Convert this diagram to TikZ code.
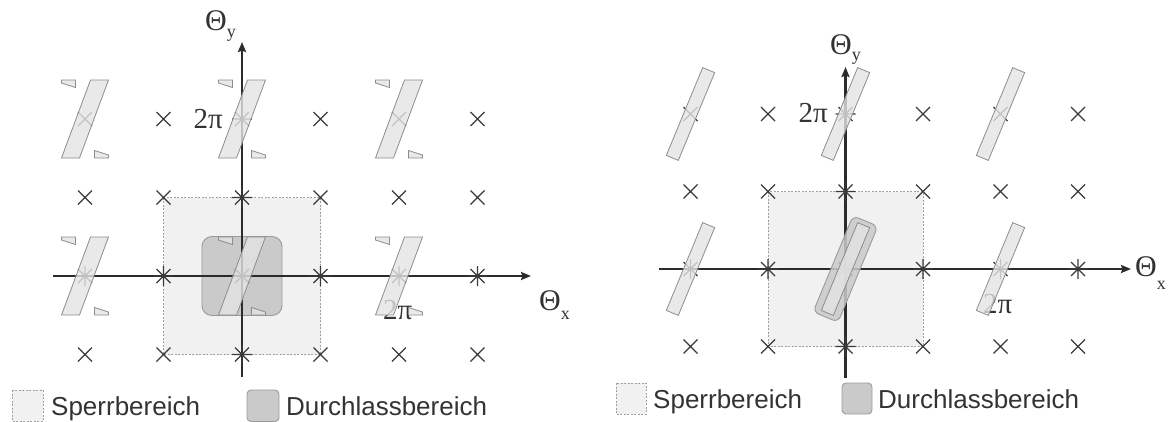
\documentclass[tikz,border=0pt]{standalone}
\usepackage{fontspec}
\setmainfont{Liberation Serif}
\newfontfamily\legfont{Liberation Sans}
\usetikzlibrary{arrows.meta}
\definecolor{axisc}{HTML}{2B2B2B}
\definecolor{markc}{HTML}{3A3A3A}
\definecolor{stopfill}{HTML}{F1F1F1}
\definecolor{stopdraw}{HTML}{A0A0A0}
\definecolor{passfill}{HTML}{CACACA}
\definecolor{passdraw}{HTML}{9A9A9A}
\definecolor{parafill}{HTML}{E4E4E4}
\definecolor{paradraw}{HTML}{8C8C8C}
\definecolor{textc}{HTML}{333333}
\tikzset{
  stopband/.style={fill=stopfill, draw=stopdraw, dash pattern=on 2pt off 1.5pt, line width=0.8pt},
  passband/.style={fill=passfill, draw=passdraw, line width=0.9pt},
  parastyle/.style={fill=parafill, fill opacity=0.8, draw=paradraw, draw opacity=1, line width=0.8pt},
  axisline/.style={draw=axisc, line width=2.4pt, -{Stealth[length=10pt,width=8pt,inset=1.5pt]}},
  axisplain/.style={draw=axisc, line width=2.4pt},
  mathlab/.style={anchor=base west, inner sep=0pt, text=textc, font=\fontsize{30}{30}\selectfont},
  pilab/.style={inner sep=0pt, text=textc, font=\fontsize{29}{29}\selectfont},
  leglab/.style={anchor=base west, inner sep=0pt, text=textc, font=\legfont\fontsize{26}{26}\selectfont},
  xmark/.pic={\draw[markc, line width=1.3pt] (-7pt,-7pt)--(7pt,7pt) (-7pt,7pt)--(7pt,-7pt);},
  astmark/.pic={\draw[markc, line width=1.3pt] (-7pt,-7pt)--(7pt,7pt) (-7pt,7pt)--(7pt,-7pt) (-10pt,0pt)--(10pt,0pt) (0pt,-10pt)--(0pt,10pt);},
  parapic/.pic={
    \draw[parastyle] (5.5pt,39pt)--(23.5pt,39pt)--(-5.5pt,-39pt)--(-23.5pt,-39pt)--cycle;
    \draw[parastyle] (-23.5pt,39pt)--(-9.5pt,39pt)--(-9.5pt,31.5pt)--(-23.5pt,36pt)--cycle;
    \draw[parastyle] (23.5pt,-39pt)--(9.5pt,-39pt)--(9.5pt,-31.5pt)--(23.5pt,-36pt)--cycle;
  },
  rectpic/.pic={
    \draw[parastyle, rotate=67.5] (-47.5pt,-6.5pt)--(47.5pt,-6.5pt)--(47.5pt,6.5pt)--(-47.5pt,6.5pt)--cycle;
  }
}
\begin{document}
\begin{tikzpicture}[x=1pt,y=-1pt]
\useasboundingbox (0,0) rectangle (1173,421);

% ================= LEFT PANEL =================
\coordinate (OL) at (242,276);
\coordinate (LxS) at (53,276);
\coordinate (LxE) at (531,276);
\coordinate (LyS) at (242,377);
\coordinate (LyE) at (242,42);

\draw[stopband] (163.5,197.5) rectangle (320.5,354.5);
\draw[passband, rounded corners=10pt] (202,236.5) rectangle (282,315.5);

\draw[axisline] (LxS) -- (LxE);
\draw[axisline] (LyS) -- (LyE);

\foreach \i in {-2,...,3}{
  \foreach \j in {-1,...,2}{
    \pgfmathtruncatemacro{\ai}{abs(\i)}
    \pgfmathtruncatemacro{\aj}{abs(\j)}
    \pgfmathtruncatemacro{\onaxis}{(\ai==0)||(\aj==0)}
    \ifnum\onaxis=1
      \pic at ({242+78.5*\i},{276-78.5*\j}) {astmark};
    \else
      \pic at ({242+78.5*\i},{276-78.5*\j}) {xmark};
    \fi
  }
}

\node[mathlab] (Lthy) at (205,30) {Θ\raisebox{-7pt}{\fontsize{18}{18}\selectfont y}};
\node[mathlab] (Lthx) at (539,310) {Θ\raisebox{-9pt}{\fontsize{18}{18}\selectfont x}};
\node[pilab, anchor=base east] (Lpiy) at (223,128) {2π};
\node[pilab, anchor=base west] (Lpix) at (383,319) {2π};

\foreach \cx/\cy in {85/276, 242/276, 399/276, 85/119, 242/119, 399/119}{
  \pic at (\cx,\cy) {parapic};
}

% legend left
\draw[stopband] (12,390) rectangle (43,421);
\node[leglab] (Lleg1) at (51,415) {Sperrbereich};
\draw[passband, rounded corners=4pt] (247,390) rectangle (279,421.5);
\node[leglab] (Lleg2) at (286,415) {Durchlassbereich};

% ================= RIGHT PANEL =================
\coordinate (OR) at (845.5,269);
\coordinate (RxS) at (659,269);
\coordinate (RxE) at (1131,269);
\coordinate (RyS) at (845.5,378);
\coordinate (RyE) at (845.5,67);

\draw[stopband] (768,191.5) rectangle (923,346.5);

\draw[axisline] (RxS) -- (RxE);
\draw[axisline] (RyS) -- (RyE);

\foreach \i in {-2,...,3}{
  \foreach \j in {-1,...,2}{
    \pgfmathtruncatemacro{\ai}{abs(\i)}
    \pgfmathtruncatemacro{\aj}{abs(\j)}
    \pgfmathtruncatemacro{\onaxis}{(\ai==0)||(\aj==0)}
    \ifnum\onaxis=1
      \pic at ({845.5+77.5*\i},{269-77.5*\j}) {astmark};
    \else
      \pic at ({845.5+77.5*\i},{269-77.5*\j}) {xmark};
    \fi
  }
}

\node[mathlab] (Rthy) at (830,54) {Θ\raisebox{-6pt}{\fontsize{18}{18}\selectfont y}};
\node[mathlab] (Rthx) at (1135,276) {Θ\raisebox{-13pt}{\fontsize{18}{18}\selectfont x}};
\node[pilab, anchor=base east] (Rpiy) at (828,122) {2π};
\node[pilab, anchor=base west] (Rpix) at (983,313) {2π};

\draw[passband, fill opacity=0.85, rounded corners=6pt, shift={(845.5,269)}, rotate=67.5]
  (-52pt,-13.5pt)--(52pt,-13.5pt)--(52pt,13.5pt)--(-52pt,13.5pt)--cycle;

\foreach \cx/\cy in {690.5/269, 845.5/269, 1000.5/269, 690.5/114, 845.5/114, 1000.5/114}{
  \pic at (\cx,\cy) {rectpic};
}

% legend right
\draw[stopband] (616,383) rectangle (646,414);
\node[leglab] (Rleg1) at (653,408) {Sperrbereich};
\draw[passband, rounded corners=4pt] (842,383) rectangle (872,414);
\node[leglab] (Rleg2) at (878,408) {Durchlassbereich};
\end{tikzpicture}
\end{document}
